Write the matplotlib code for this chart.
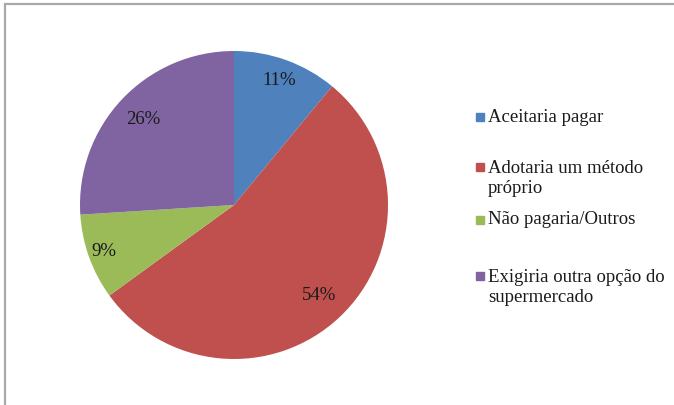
import matplotlib
matplotlib.use('Agg')
import numpy as np
import matplotlib.pyplot as plt
from matplotlib.patches import Rectangle

#Pie data
labels = ['Aceitaria pagar', 'Adotaria um método\npróprio', 'Não pagaria/Outros',
          'Exigiria outra opção do\nsupermercado']
values = [11, 54, 9, 26]
colorslist = ['#4f81bd', '#c0504d', '#9bbb59', '#8064a2']

plt.rcParams['font.family'] = ['Liberation Serif', 'DejaVu Serif']

W, H = 674, 405
fig = plt.figure(figsize=(W / 100, H / 100), dpi=100)

#gray frame, cut off at right and bottom like the original
fig.patches.append(Rectangle((5 / W, -0.05), 1.1, 1 - 4 / H + 0.05, transform=fig.transFigure,
                             fill=False, edgecolor='#a9a9a9', lw=1.6))

ax = fig.add_axes([80 / W, (H - 359) / H, 308 / W, 308 / H])
wedges, texts = ax.pie(values, colors=colorslist, startangle=90, counterclock=False,
                       radius=1, wedgeprops={'linewidth': 0})
ax.set_xlim(-1, 1)
ax.set_ylim(-1, 1)
ax.set_aspect('equal')
ax.axis('off')

#percent labels, distance from centre as in the original
pct_r = [0.86, 0.81, 0.90, 0.81]
for w, v, r in zip(wedges, values, pct_r):
    mid = np.deg2rad((w.theta1 + w.theta2) / 2)
    ax.text(r * np.cos(mid), r * np.sin(mid), '%d%%' % v, ha='center', va='center',
            fontsize=13.5, color='#1a1a1a')

#legend drawn by hand (Excel spacing is uneven)
leg_y = [117, 167, 220, 276]
for lab, c, y in zip(labels, colorslist, leg_y):
    fig.patches.append(Rectangle((476 / W, (H - y - 4) / H), 8 / W, 8 / H,
                                 transform=fig.transFigure, color=c))
    if '\n' in lab:
        fig.text(488 / W, (H - y + 7) / H, lab, ha='left', va='top', fontsize=13.5,
                 linespacing=1.25, color='#1a1a1a')
    else:
        fig.text(488 / W, (H - y) / H, lab, ha='left', va='center', fontsize=13.5,
                 color='#1a1a1a')

fig.savefig('out.png', dpi=100)
